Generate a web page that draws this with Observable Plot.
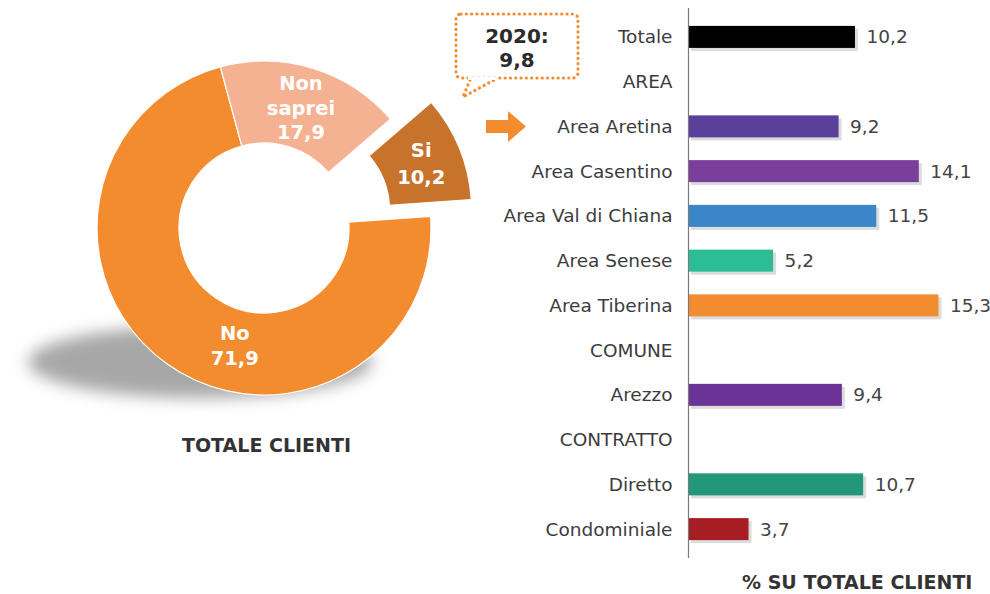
<!DOCTYPE html>
<html><head><meta charset="utf-8">
<script src="https://cdn.jsdelivr.net/npm/d3@7"></script>
<script src="https://cdn.jsdelivr.net/npm/@observablehq/plot@0.6"></script>
<style>
body{margin:0;background:#fff;font-family:"DejaVu Sans",Verdana,sans-serif;}
#wrap{position:relative;width:990px;height:594px;overflow:hidden;background:#fff;}
#left,#right{position:absolute;top:0;}
#left{left:0}
#right{left:440px}
.cap{position:absolute;font-weight:bold;font-size:19px;color:#333;white-space:nowrap;line-height:22px}
</style></head><body>
<div id="wrap"><div id="left"></div><div id="right"></div>
<div class="cap" style="left:182px;top:434px">TOTALE CLIENTI</div>
<div class="cap" style="left:742px;top:571px">% SU TOTALE CLIENTI</div>
</div>
<script>
// ---- data ----
const pieLabels = ["No", "Non saprei", "Si"];
const pieValues = [71.9, 17.9, 10.2];
const pieColors = ["#F28C2E", "#F5B293", "#C8732C"];
const calloutYear = "2020:";
const calloutValue = 9.8;

const barCategories = ["Totale","AREA","Area Aretina","Area Casentino","Area Val di Chiana","Area Senese","Area Tiberina","COMUNE","Arezzo","CONTRATTO","Diretto","Condominiale"];
const barValues = [10.2, null, 9.2, 14.1, 11.5, 5.2, 15.3, null, 9.4, null, 10.7, 3.7];
const barColors = ["#000000", null, "#5A3F9B", "#7A3F9B", "#3A86C8", "#2CBD97", "#F28C2E", null, "#6C3396", null, "#229779", "#A61E23"];

const fmt = v => v.toFixed(1).replace(".", ",");

// ---- donut (left) ----
const cx = 264, cy = 228, r0 = 85, r1 = 167, explode = 44;
const startDeg = 86;

function donutMark() {
  const g = d3.create("svg:g");
  const defs = g.append("defs");
  defs.append("filter").attr("id", "shblur").attr("x", "-50%").attr("y", "-50%").attr("width", "200%").attr("height", "200%")
    .append("feGaussianBlur").attr("stdDeviation", 8);
  // shadow
  g.append("ellipse").attr("cx", 200).attr("cy", 362).attr("rx", 172).attr("ry", 36)
    .attr("fill", "#8a8a8a").attr("opacity", 0.75).attr("filter", "url(#shblur)");

  const data = pieLabels.map((l, i) => ({label: l, value: pieValues[i], color: pieColors[i]}));
  const arcs = d3.pie().sort(null).value(d => d.value)
    .startAngle(startDeg * Math.PI / 180).endAngle(startDeg * Math.PI / 180 + 2 * Math.PI)(data);
  const arc = d3.arc().innerRadius(r0).outerRadius(r1);
  arcs.forEach((a) => {
    const mid = (a.startAngle + a.endAngle) / 2;
    const off = a.data.label === "Si" ? explode : 0;
    const tx = cx + off * Math.sin(mid), ty = cy - off * Math.cos(mid);
    const sg = g.append("g").attr("transform", `translate(${tx},${ty})`);
    sg.append("path").attr("d", arc(a)).attr("fill", a.data.color).attr("stroke", "#fff").attr("stroke-width", 1.2);
    let lx, ly;
    if (a.data.label === "No") {
      const ang = 194 * Math.PI / 180, rr = 121;
      lx = rr * Math.sin(ang); ly = -rr * Math.cos(ang);
    } else {
      [lx, ly] = arc.centroid(a);
    }
    const words = a.data.label.split(" ").concat([fmt(a.data.value)]);
    const lh = a.data.label === "Si" ? 27 : 24.5;
    const t = sg.append("text").attr("fill", "#fff").attr("font-weight", "bold").attr("font-size", 19.5)
      .attr("text-anchor", "middle");
    words.forEach((w, k) => {
      t.append("tspan").attr("x", lx).attr("y", ly + (k - (words.length - 1) / 2) * lh).attr("dy", "0.36em").text(w);
    });
  });

  // callout box
  const orange = "#F28C2E";
  g.append("rect").attr("x", 456).attr("y", 14).attr("width", 122).attr("height", 64).attr("rx", 5)
    .attr("fill", "none").attr("stroke", orange).attr("stroke-width", 3.2)
    .attr("stroke-dasharray", "0.1 5.2").attr("stroke-linecap", "round");
  g.append("path").attr("d", "M470,80 L463,97 L494,80").attr("fill", "none").attr("stroke", orange)
    .attr("stroke-width", 3.2).attr("stroke-dasharray", "0.1 5.2").attr("stroke-linecap", "round");
  g.append("rect").attr("x", 468).attr("y", 77).attr("width", 28).attr("height", 3).attr("fill", "#fff");
  const ct = g.append("text").attr("text-anchor", "middle").attr("font-weight", "bold").attr("font-size", 20).attr("fill", "#2b2b2b");
  ct.append("tspan").attr("x", 517).attr("y", 36).attr("dy", "0.36em").text(calloutYear);
  ct.append("tspan").attr("x", 517).attr("y", 60).attr("dy", "0.36em").text(fmt(calloutValue));
  // arrow
  g.append("path").attr("d", "M486,120 L508,120 L508,111 L526,126.5 L508,142 L508,133 L486,133 Z").attr("fill", orange);
  return g.node();
}

const leftPlot = Plot.plot({
  width: 600, height: 594, margin: 0,
  style: {background: "transparent", fontFamily: "DejaVu Sans, Verdana, sans-serif", overflow: "visible"},
  marks: [() => donutMark()]
});
document.getElementById("left").appendChild(leftPlot);

// ---- bars (right) ----
const rows = barCategories.map((c, i) => ({category: c, value: barValues[i], color: barColors[i]}));
const bars = rows.filter(d => d.value != null);

const rightPlot = Plot.plot({
  width: 550, height: 594,
  marginLeft: 248, marginRight: 0, marginTop: 8, marginBottom: 36,
  x: {domain: [0, 18.45], axis: null},
  y: {domain: barCategories, axis: "left", tickSize: 0, tickPadding: 16, label: null,
      paddingInner: 0.508, paddingOuter: 0.4, round: false},
  color: {type: "identity"},
  style: {background: "transparent", fontFamily: "DejaVu Sans, Verdana, sans-serif", fontSize: "18.5px", color: "#3c3c3c"},
  marks: [
    Plot.barX(bars, {x: "value", y: "category", fill: "#9a9a9a", fillOpacity: 0.35, dx: 3, dy: 3}),
    Plot.barX(bars, {x: "value", y: "category", fill: "color"}),
    Plot.ruleX([0], {stroke: "#7a7a7a", strokeWidth: 1.2}),
    Plot.text(bars, {x: "value", y: "category", text: d => fmt(d.value), dx: 11, textAnchor: "start", fill: "#444", fontSize: 18.5})
  ]
});
document.getElementById("right").appendChild(rightPlot);
</script>
</body></html>
